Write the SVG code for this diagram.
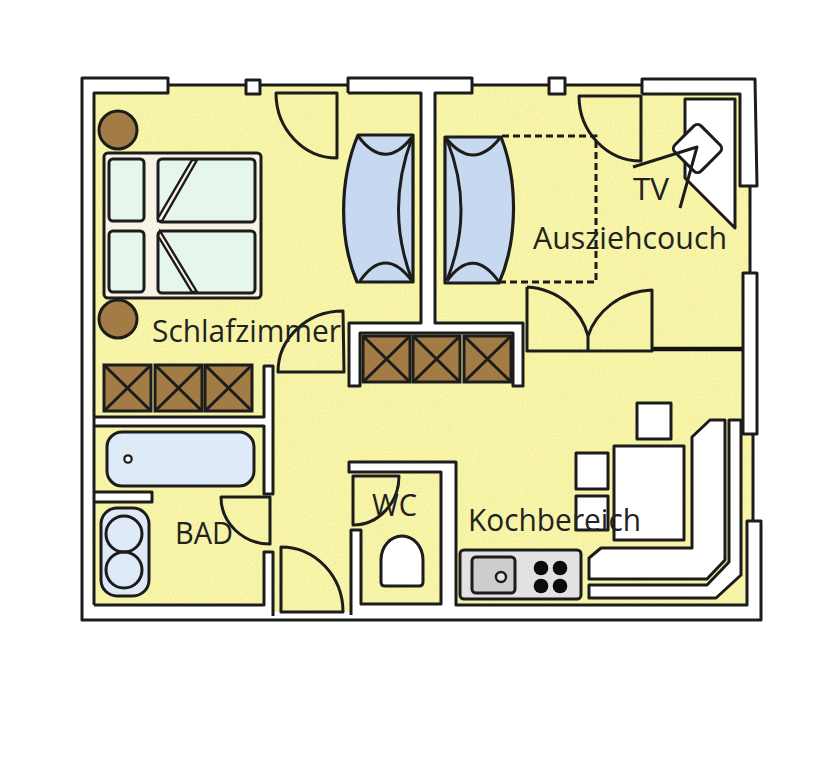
<svg xmlns="http://www.w3.org/2000/svg" width="838" height="768" viewBox="0 0 838 768">
<style>
.l{fill:none;stroke:#1c1c1c;stroke-width:3;stroke-linejoin:round}
.w{fill:#fff;stroke:none}
.ws{fill:#fff;stroke:#1c1c1c;stroke-width:3;stroke-linejoin:round}
.cab{fill:#a27c44;stroke:#1c1c1c;stroke-width:3}
.couch{fill:#c6d9f1;stroke:#1c1c1c;stroke-width:3.200;stroke-linejoin:round}
.pil{fill:#e6f6ec;stroke:#1c1c1c;stroke-width:3}
.blue{fill:#deeaf8;stroke:#1c1c1c;stroke-width:3}
.b{fill:#0c0c0c}
text{font-family:"Open Sans","Noto Sans","Liberation Sans",sans-serif;font-size:31px;fill:#222}
</style>
<defs>
<filter id="grain" x="0" y="0" width="100%" height="100%">
<feTurbulence type="fractalNoise" baseFrequency="0.55" numOctaves="2" seed="4" result="n"/>
<feDiffuseLighting in="n" surfaceScale="0.4" diffuseConstant="1.040" lighting-color="#f8f5a8" result="t"><feDistantLight azimuth="45" elevation="72"/></feDiffuseLighting>
<feComposite in="t" in2="SourceGraphic" operator="in"/>
</filter>
<g id="cabinet"><rect class="cab" width="47" height="46"/><path class="l" d="M0,0L47,46M47,0L0,46"/></g>
</defs>
<rect width="838" height="768" fill="#fff"/>
<g id="floor">
<path fill="#f6f3a6" d="M90,85H750V273H753V521H749V612H90Z"/>
<path fill="#f6f3a6" filter="url(#grain)" d="M90,85H750V273H753V521H749V612H90Z"/>
</g>
<g id="walls">
<path class="w" d="M82,78H168V93H94V605H264V552H273V613H351V530H361V605H441V472H349V462H456V605H747V521H761V621H82Z"/>
<path class="w" d="M168,70H642V85H168ZM642,78H756V186H740V94H642ZM750,186H838V273H757V434H743V273H750ZM753,434H838V521H753Z"/>
<path class="w" d="M348,78H472V93H434V323H523V386H513V333H360V386H348V323H421V93H348Z"/>
<path class="w" d="M94,417H264V366H273V494H264V426H94ZM94,492H152V502H94Z"/>
<path class="l" d="M94,605V93H168V78H82V620H761V521H747V605H456V462H349V472H441V604H361V530H351V615"/>
<path class="l" d="M168,85H348M348,93V78H472V93H435V323H523V386H513V333H360V386H349V323H421V93H348"/>
<path class="l" d="M472,85H642M642,94V79H755L757,186H740V94H642M750,186V273M743,273H757V434H743ZM753,434V521"/>
<path class="l" d="M94,605H264V552H273V616M94,417H264V366H273V494H264V426H94M94,492H152V502H94"/>
<rect class="ws" x="246" y="80" width="14" height="14"/>
<rect class="ws" x="549" y="78" width="16" height="16"/>
<path d="M652,349H742" stroke="#111" stroke-width="4.500" fill="none"/>
</g>
<g id="doors">
<path class="l" d="M276,93H337V158A61,65 0 0 1 276,93Z"/>
<path class="l" d="M278,372H344L343,311A65,61 0 0 0 278,372Z"/>
<path class="l" d="M579,96H641V161A62,65 0 0 1 579,96Z"/>
<path class="l" d="M527,287V351H652V290C620,291 596,312 588,336V351M527,287C560,289 582,312 588,336"/>
<path class="l" d="M221,497H270V544A49,47 0 0 1 221,497Z"/>
<path class="l" d="M281,547V612H343A62,65 0 0 0 281,547Z"/>
<path class="l" d="M399,476H353V525A46,49 0 0 0 399,476Z"/>
</g>
<g id="bed">
<circle class="cab" cx="118" cy="130" r="19"/>
<circle class="cab" cx="118" cy="319" r="19"/>
<rect x="104" y="153" width="157" height="145" rx="4" fill="#f8f3e4" stroke="#1c1c1c" stroke-width="3"/>
<rect class="pil" x="109" y="159" width="35" height="62" rx="4"/>
<rect class="pil" x="109" y="231" width="35" height="61" rx="4"/>
<rect class="pil" x="158" y="159" width="97" height="63" rx="4"/>
<rect class="pil" x="158" y="231" width="97" height="62" rx="4"/>
<path d="M192,160H197L162,221H158V218Z" fill="#f8f3e4" stroke="#1c1c1c" stroke-width="2.400"/>
<path d="M160,231L197,292H192L158,236Z" fill="#f8f3e4" stroke="#1c1c1c" stroke-width="2.400"/>
</g>
<g id="couch-left">
<path class="couch" d="M358,135H413V282H357C339,240 339,180 358,135Z"/>
<path class="l" d="M358,136Q385,172 412,137M360,281Q385,245 412,281M412,138Q385,210 412,280"/>
</g>
<g id="couch-right">
<path class="couch" d="M445,137H501C518,180 518,240 499,283H445Z"/>
<path class="l" d="M446,138Q473,172 500,138M447,281Q473,245 499,282M447,140Q475,210 447,280"/>
<path d="M502,136H596V282H500" fill="none" stroke="#1c1c1c" stroke-width="3" stroke-dasharray="7,4"/>
</g>
<g id="tv">
<path class="ws" d="M685,99H735V228L685,178Z"/>
<rect class="ws" x="679" y="130" width="37" height="37" rx="5" transform="rotate(45 697.500 148.500)"/>
<path class="l" d="M633,167L697,147L680,208"/>
</g>
<g id="cabinets">
<use href="#cabinet" x="363" y="336"/><use href="#cabinet" x="413" y="336"/><use href="#cabinet" x="464" y="336"/>
<use href="#cabinet" x="104" y="365"/><use href="#cabinet" x="155" y="365"/><use href="#cabinet" x="205" y="365"/>
</g>
<g id="bath">
<rect class="blue" x="107" y="432" width="147" height="54" rx="15"/>
<circle cx="128" cy="459" r="3.700" fill="#fff" stroke="#1c1c1c" stroke-width="2.200"/>
<rect class="blue" x="101" y="508" width="48" height="88" rx="16"/>
<circle cx="124" cy="534" r="18" fill="none" stroke="#1c1c1c" stroke-width="3"/>
<circle cx="124" cy="570" r="18" fill="none" stroke="#1c1c1c" stroke-width="3"/>
</g>
<g id="toilet">
<path class="ws" d="M381,582V560A21,24 0 0 1 423,560V582Q423,586 419,586H385Q381,586 381,582Z"/>
</g>
<g id="kitchen">
<rect x="460" y="550" width="121" height="49" rx="4" fill="#e2e2e2" stroke="#1c1c1c" stroke-width="3"/>
<rect x="472" y="557" width="43" height="36" rx="4" fill="#cdcdcd" stroke="#1c1c1c" stroke-width="3"/>
<circle cx="501" cy="577" r="5" fill="#e2e2e2" stroke="#1c1c1c" stroke-width="2.400"/>
<circle class="b" cx="541" cy="568" r="7.300"/><circle class="b" cx="560" cy="568" r="7.300"/>
<circle class="b" cx="541" cy="586" r="7.300"/><circle class="b" cx="560" cy="586" r="7.300"/>
<path class="ws" d="M710,420H725V560L707,579H589V558L601,548H692V437Z"/>
<path class="ws" d="M729,420H741V575L716,598H589V585H707L729,562Z"/>
</g>
<g id="dining">
<rect class="ws" x="614" y="446" width="70" height="94"/>
<rect class="ws" x="637" y="403" width="34" height="36"/>
<rect class="ws" x="576" y="453" width="32" height="36"/>
<rect class="ws" x="576" y="496" width="32" height="34"/>
</g>
<g id="labels">
<text x="152" y="342" textLength="189" lengthAdjust="spacingAndGlyphs">Schlafzimmer</text>
<text x="633" y="200" textLength="36" lengthAdjust="spacingAndGlyphs">TV</text>
<text x="533" y="249" textLength="194" lengthAdjust="spacingAndGlyphs">Ausziehcouch</text>
<text x="468" y="531" textLength="173" lengthAdjust="spacingAndGlyphs">Kochbereich</text>
<text x="175" y="544" textLength="58" lengthAdjust="spacingAndGlyphs">BAD</text>
<text x="372" y="516" textLength="45" lengthAdjust="spacingAndGlyphs">WC</text>
</g>
</svg>
